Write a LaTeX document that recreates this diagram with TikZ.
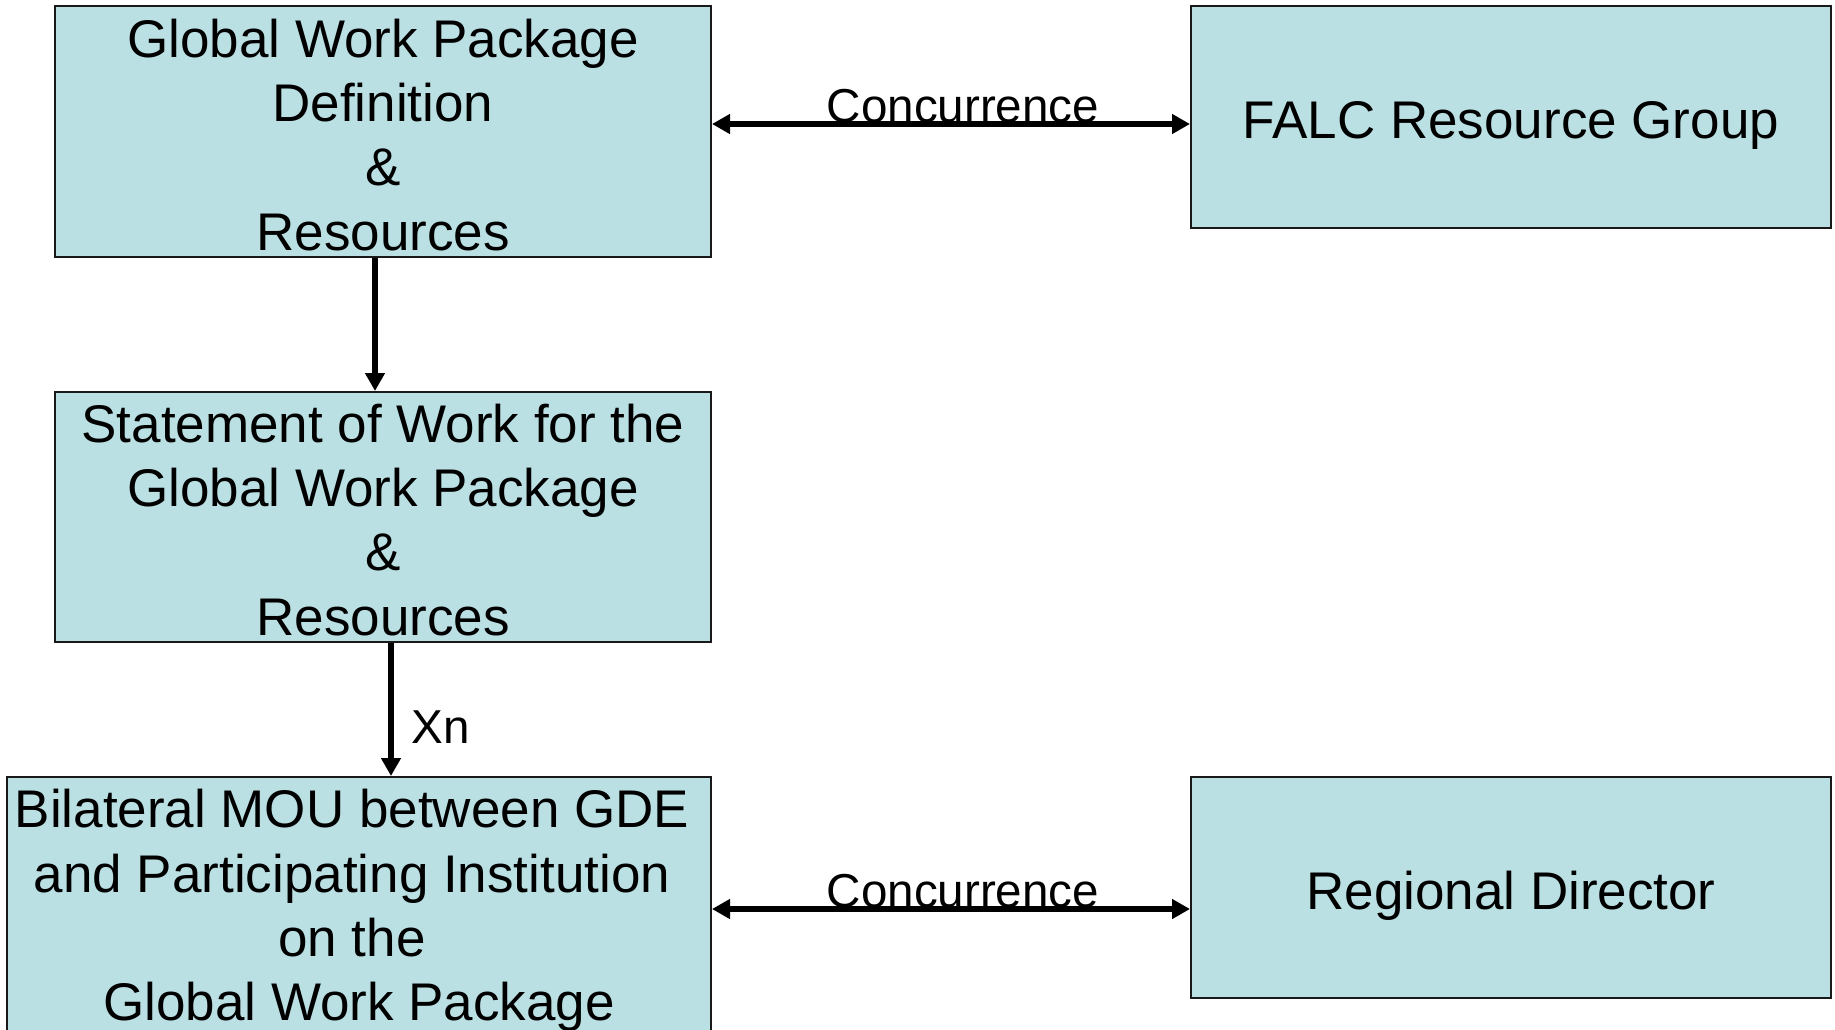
\documentclass[tikz,border=0pt]{standalone}
\usepackage{fontspec}
\setmainfont{Liberation Sans}
\usetikzlibrary{arrows.meta}
\definecolor{boxfill}{RGB}{187,224,227}

% a strut that pushes the first line of a box down
\newcommand{\boxstrut}[1]{\rule{0pt}{#1}}
% a gap after a line, to move it left
\newcommand{\tailgap}{\kern7pt\relax}

\tikzset{
  flowbox/.style={draw=black!90, line width=1pt, fill=boxfill, inner sep=0pt,
    align=center, font=\fontsize{26.5}{32.2}\selectfont},
  flowarrow/.style={line width=2.75pt, -{Triangle[length=9pt,width=9.5pt]}},
  twoway/.style={line width=2.75pt,
    {Triangle[length=9pt,width=9.5pt]}-{Triangle[length=9pt,width=9.5pt]}},
  arrowlabel/.style={font=\fontsize{23.8}{28}\selectfont, inner sep=0pt}
}

\begin{document}
\begin{tikzpicture}[x=0.5pt, y=-0.5pt]
            % Define the page frame
            \clip (0,0) rectangle (1835,1029);

            % Define the left column of boxes
            \node[flowbox, minimum width=328pt, minimum height=125.5pt] (wpdef) at (383,131.5)
                {\boxstrut{22.5pt}Global Work Package\\Definition\\\&\\Resources};
            \node[flowbox, minimum width=328pt, minimum height=125pt] (sow) at (383,517)
                {\boxstrut{22pt}Statement of Work for the\\Global Work Package\\\&\\Resources};
            \node[flowbox, minimum width=352pt, minimum height=129pt] (mou) at (359,906)
                {\boxstrut{23.8pt}Bilateral MOU between GDE\tailgap\\%
                and Participating Institution\tailgap\\%
                on the\tailgap\\%
                Global Work Package};

            % Define the right column of boxes
            \node[flowbox, minimum width=320pt, minimum height=111pt] (falc) at (1511,117)
                {\boxstrut{26.5pt}FALC Resource Group};
            \node[flowbox, minimum width=320pt, minimum height=110.5pt] (regdir) at (1511,887.5)
                {\boxstrut{27.5pt}Regional Director};

            % Add the downward arrows
            \draw[flowarrow] ([xshift=-4pt]wpdef.south) -- ([xshift=-4pt]sow.north);
            \draw[flowarrow] ([xshift=4pt]sow.south) -- ([xshift=4pt]sow.south |- mou.north)
                node[arrowlabel, pos=0.634, anchor=west, xshift=8.75pt] {Xn};

            % Add the concurrence arrows
            \draw[twoway] ([yshift=3.75pt]wpdef.east) -- ([yshift=3.75pt]wpdef.east -| falc.west)
                node[arrowlabel, pos=0.525, anchor=south, yshift=-1pt] {Concurrence};
            \draw[twoway] ([yshift=-1.5pt]mou.east) -- ([yshift=-1.5pt]mou.east -| regdir.west)
                node[arrowlabel, pos=0.525, anchor=south, yshift=-1pt] {Concurrence};
\end{tikzpicture}
\end{document}
